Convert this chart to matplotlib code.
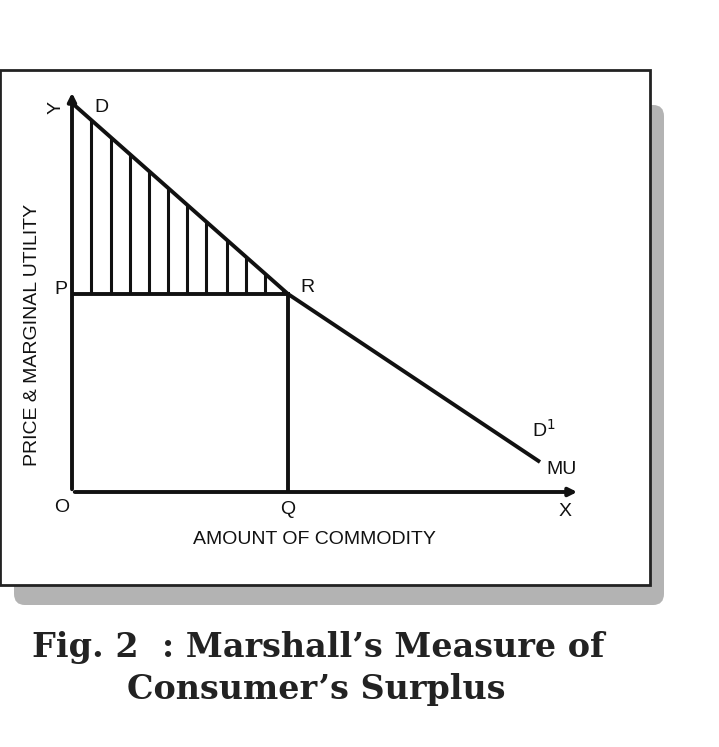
import matplotlib
matplotlib.use("Agg")
import matplotlib.pyplot as plt
from matplotlib.patches import FancyBboxPatch, Rectangle
import numpy as np

W, H = 719, 747
# demand curve (quantity, price) in chart units
curve_q = [0, 216, 468]
curve_p = [389, 198, 30]
price_P = 198
qty_Q = 216
hatch_q = [19, 39, 58, 77, 96, 115, 134, 155, 174, 193, 211]

fig = plt.figure(figsize=(W/100, H/100), dpi=100)
fig.patch.set_facecolor("white")
# shadow and box
fig.patches.append(FancyBboxPatch((14/W, (747-605)/H), 650/W, 500/H,
    boxstyle="round,pad=0,rounding_size=0.015", transform=fig.transFigure,
    facecolor="#b3b3b3", edgecolor="none", zorder=0))
fig.patches.append(Rectangle((0, (747-585)/H), 650/W, 515/H, transform=fig.transFigure,
    facecolor="white", edgecolor="#222222", lw=2, zorder=1))

ax = fig.add_axes([72/W, (747-492)/H, 508/W, 402/H])
ax.set_zorder(5)
ax.set_xlim(0, 508); ax.set_ylim(0, 402)
ax.axis("off"); ax.patch.set_alpha(0)
lw = 2.8
ax.annotate("", xy=(508, 0), xytext=(0, 0), arrowprops=dict(arrowstyle="-|>", lw=lw, color="#111", mutation_scale=12), annotation_clip=False)
ax.annotate("", xy=(0, 402), xytext=(0, 0), arrowprops=dict(arrowstyle="-|>", lw=lw, color="#111", mutation_scale=12), annotation_clip=False)
ax.plot(curve_q, curve_p, color="#111", lw=lw, solid_capstyle="butt")
ax.plot([0, qty_Q], [price_P, price_P], color="#111", lw=lw)
ax.plot([qty_Q, qty_Q], [0, price_P], color="#111", lw=lw)
top = np.interp(hatch_q, curve_q, curve_p)
ax.vlines(hatch_q, price_P, top, color="#111", lw=2.2)

fs = 14
kw = dict(fontsize=fs, family="Liberation Sans", color="#111")
ax.text(-16, 385, "Y", ha="center", va="center", rotation=90, **kw)
ax.text(22, 385, "D", ha="left", va="center", **kw)
ax.text(-5, 203, "P", ha="right", va="center", **kw)
ax.text(228, 204, "R", ha="left", va="center", **kw)
ax.text(-10, -16, "O", ha="center", va="center", **kw)
ax.text(qty_Q, -17, "Q", ha="center", va="center", **kw)
ax.text(493, -20, "X", ha="center", va="center", **kw)
ax.text(460, 62, "D$^{1}$", ha="left", va="center", **kw)
ax.text(474, 22, "MU", ha="left", va="center", **kw)
ax.text(242, -47, "AMOUNT OF COMMODITY", ha="center", va="center", **kw)
ax.text(-39, 157, "PRICE & MARGINAL UTILITY", ha="center", va="center", rotation=90, **kw)

fig.text(318/W, 1-648/H, "Fig. 2  : Marshall’s Measure of", ha="center", va="center",
         fontsize=24, fontweight="bold", family="DejaVu Serif", color="#222")
fig.text(316/W, 1-690/H, "Consumer’s Surplus", ha="center", va="center",
         fontsize=24, fontweight="bold", family="DejaVu Serif", color="#222")
fig.savefig("out.png", dpi=100)
